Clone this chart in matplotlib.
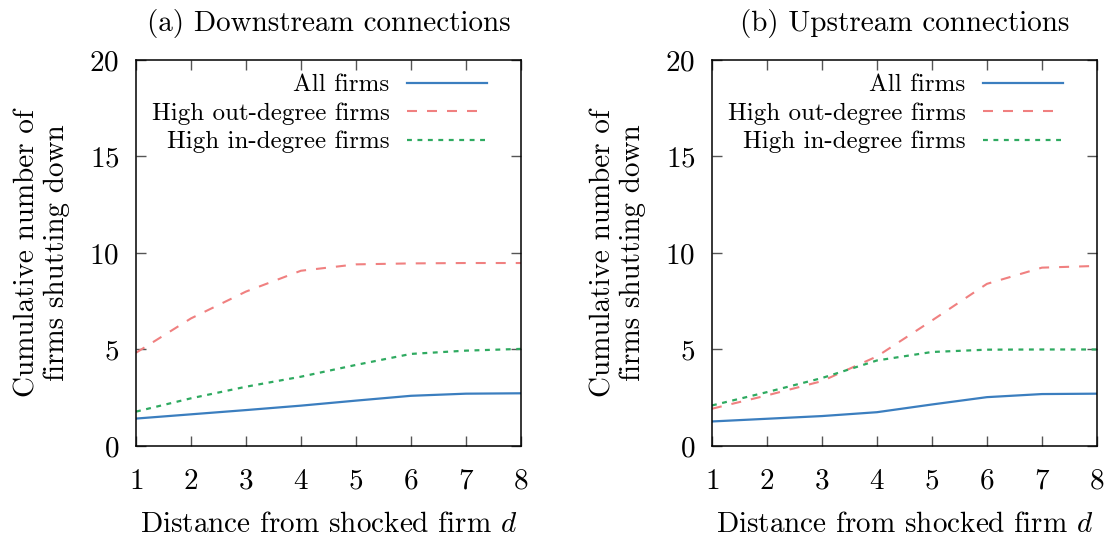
import numpy as np
import matplotlib
matplotlib.use('Agg')
import matplotlib.pyplot as plt

# 距离 d
dist = [1, 2, 3, 4, 5, 6, 7, 8]

# (a) downstream
down_all = [1.42, 1.64, 1.86, 2.09, 2.35, 2.6, 2.71, 2.73]
down_out = [4.83, 6.61, 8.0, 9.08, 9.41, 9.46, 9.48, 9.48]
down_in = [1.78, 2.47, 3.07, 3.59, 4.2, 4.77, 4.94, 5.03]

# (b) upstream
up_all = [1.27, 1.41, 1.55, 1.75, 2.15, 2.53, 2.69, 2.71]
up_out = [1.93, 2.62, 3.36, 4.64, 6.5, 8.4, 9.24, 9.33]
up_in = [2.1, 2.79, 3.52, 4.43, 4.87, 4.99, 5.0, 5.0]

titles = ['(a) Downstream connections', '(b) Upstream connections']
labels = ['All firms', 'High out-degree firms', 'High in-degree firms']

plt.rcParams['font.family'] = ['cmr10', 'DejaVu Serif']
plt.rcParams['mathtext.fontset'] = 'cm'
plt.rcParams['axes.formatter.use_mathtext'] = True
plt.rcParams['font.size'] = 21

fig = plt.figure(figsize=(11.1, 5.37), dpi=100)
ax_a = fig.add_axes([0.1225, 0.1695, 0.3468, 0.7188])
ax_b = fig.add_axes([0.6414, 0.1695, 0.3468, 0.7188])

for ax, title, ys in [(ax_a, titles[0], (down_all, down_out, down_in)),
                      (ax_b, titles[1], (up_all, up_out, up_in))]:
    ax.plot(dist, ys[0], color='#3b7ebf', lw=1.6, label=labels[0])
    ax.plot(dist, ys[1], color='#f08080', lw=1.5, dashes=(4.8, 4.8), label=labels[1])
    ax.plot(dist, ys[2], color='#2eaa60', lw=1.6, dashes=(2.2, 2.5), label=labels[2])
    ax.set_xlim(1, 8)
    ax.set_ylim(0, 20)
    ax.set_xticks(dist)
    ax.set_yticks([0, 5, 10, 15, 20])
    ax.tick_params(direction='in', top=True, right=True, length=7, width=1,
                   color='#555555', labelsize=21)
    ax.tick_params(axis='x', pad=16)
    ax.tick_params(axis='y', pad=12)
    for sp in ax.spines.values():
        sp.set_linewidth(1.1)
    ax.set_title(title, fontsize=21, pad=21)
    ax.set_xlabel('Distance from shocked firm $d$', fontsize=21, labelpad=12)
    ax.set_ylabel('Cumulative number of\nfirms shutting down', fontsize=21,
                  labelpad=14, linespacing=1.15)
    ax.legend(loc='upper right', bbox_to_anchor=(0.912, 0.964), frameon=False,
              markerfirst=False, handlelength=3.2, fontsize=18,
              labelspacing=0.24, borderaxespad=0, borderpad=0,
              handletextpad=0.7)

fig.savefig('out.png', dpi=100)
